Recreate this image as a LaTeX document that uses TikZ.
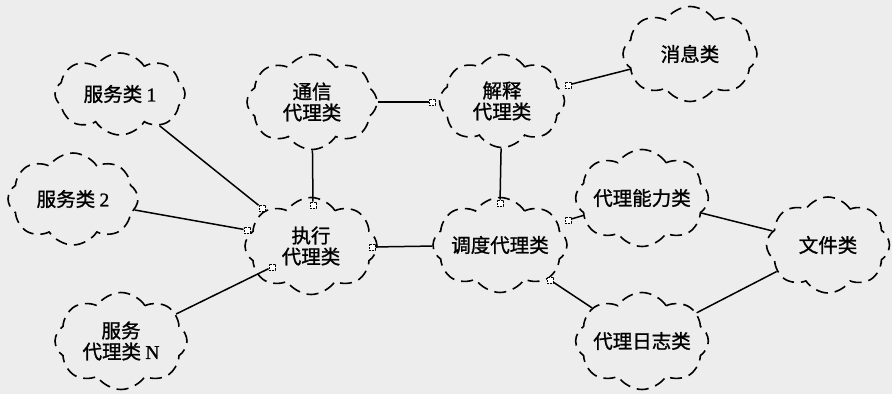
\documentclass[tikz,border=0pt]{standalone}
\usepackage{fontspec}
\setmainfont{Noto Sans CJK SC}[FakeBold=1.2]
\newfontfamily\latf{Liberation Serif}[FakeBold=1.2]
\usetikzlibrary{shapes.symbols}
\begin{document}
\begin{tikzpicture}[x=1pt,y=-1pt,
  cls/.style={cloud, cloud puffs=8, cloud puff arc=115, cloud ignores aspect, draw, line width=1.6pt,
    dash pattern=on 12pt off 7pt, inner sep=0pt, align=center, font=\fontsize{19.5}{21}\selectfont},
  hasm/.style={draw, fill=white, rectangle, minimum size=6pt, inner sep=0pt, line width=1pt,
    dash pattern=on 1.8pt off 1.2pt},
  link/.style={line width=1.5pt}]
\fill[black!7] (0,0) rectangle (892,394);
\useasboundingbox (0,0) rectangle (892,394);
% classes
\node[cls, minimum width=130pt, minimum height=82pt] (s1) at (120,94) {服务类 {\latf 1}};
\node[cls, minimum width=130pt, minimum height=92pt] (s2) at (73,199) {服务类 {\latf 2}};
\node[cls, minimum width=132pt, minimum height=97pt] (svcN) at (121,341) {服务\\代理类 {\latf N}};
\node[cls, minimum width=130pt, minimum height=95pt] (comm) at (312,102) {通信\\代理类};
\node[cls, minimum width=125pt, minimum height=93pt] (interp) at (502,101) {解释\\代理类};
\node[cls, minimum width=132pt, minimum height=97pt] (exec) at (311,246) {执行\\代理类};
\node[cls, minimum width=134pt, minimum height=95pt] (sched) at (500,245) {调度代理类};
\node[cls, minimum width=134pt, minimum height=95pt] (msg) at (690,54) {消息类};
\node[cls, minimum width=130pt, minimum height=97pt] (cap) at (642,198) {代理能力类};
\node[cls, minimum width=123pt, minimum height=96pt] (file) at (828,245) {文件类};
\node[cls, minimum width=130pt, minimum height=97pt] (log) at (642,341) {代理日志类};
% has markers
\node[hasm] (m1) at (262,208) {};
\node[hasm] (m2) at (247,230) {};
\node[hasm] (m3) at (272,267) {};
\node[hasm] (m4) at (313,205) {};
\node[hasm] (m5) at (372,247) {};
\node[hasm] (m6) at (432,102) {};
\node[hasm] (m7) at (568,85) {};
\node[hasm] (m8) at (500,203) {};
\node[hasm] (m9) at (568,220) {};
\node[hasm] (m10) at (550,280) {};
% links
\draw[link] (s1) -- (m1);
\draw[link] (s2) -- (m2);
\draw[link] (svcN) -- (m3);
\draw[link] (comm) -- (m4);
\draw[link] (comm) -- (m6);
\draw[link] (m7) -- (msg);
\draw[link] (interp) -- (m8);
\draw[link] (m5) -- (sched);
\draw[link] (m9) -- (cap);
\draw[link] (m10) -- (log);
\draw[link] (cap) -- (file);
\draw[link] (log) -- (file);
\end{tikzpicture}
\end{document}
